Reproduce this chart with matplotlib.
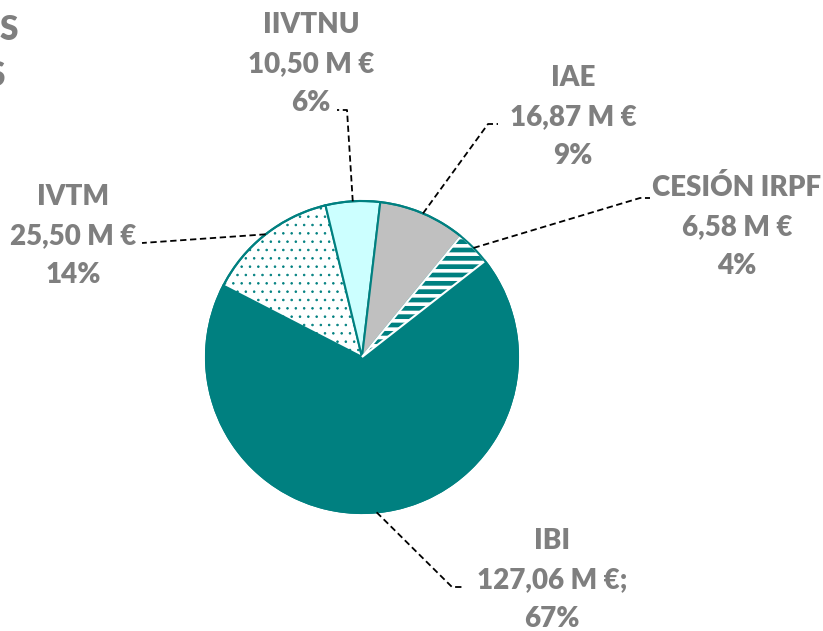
import numpy as np
import matplotlib.pyplot as plt

# data (millones de euros)
names = ["IBI", "IVTM", "IIVTNU", "IAE", "CESIÓN IRPF"]
values = [127.06, 25.50, 10.50, 16.87, 6.58]
pcts = [67, 14, 6, 9, 4]
suffix = [";", "", "", "", ""]

# styling
TEAL = "#008080"
GREY_TXT = "#7f7f7f"
faces = [TEAL, "white", "#ccffff", "#c0c0c0", TEAL]
edges = [TEAL, TEAL, TEAL, TEAL, "white"]
hatches = [None, "..", None, None, "--"]
hatch_lw = [1.0, 0.6, 1.0, 1.0, 2.6]

W, H = 823, 631
plt.rcParams["font.family"] = ["Lato", "DejaVu Sans"]
plt.rcParams["hatch.linewidth"] = 0.6


def px(x, y):
    # pixel coords (origin top-left) -> data coords
    return x, H - y


fig = plt.figure(figsize=(W / 100, H / 100), dpi=100)
ax = fig.add_axes([0, 0, 1, 1])

cx, cy = px(362, 357)
R = 156
wedges, _ = ax.pie(values, startangle=38, counterclock=False,
                   center=(cx, cy), radius=R,
                   wedgeprops=dict(linewidth=1.5))
for w, fc, ec, h, hl in zip(wedges, faces, edges, hatches, hatch_lw):
    w.set_facecolor(fc)
    w.set_edgecolor(ec)
    if h:
        w.set_hatch(h)
        if hasattr(w, "set_hatch_linewidth"):
            w.set_hatch_linewidth(hl)

# outline of the whole pie in teal
circle = plt.Circle((cx, cy), R, fill=False, edgecolor=TEAL, linewidth=1.5)
ax.add_patch(circle)

ax.set_xlim(0, W)
ax.set_ylim(0, H)
ax.axis("off")

# label positions (centre x, first line y) and leader line bends
label_pos = [(552, 541), (73, 197), (311, 25), (573, 78), (737, 188)]
leader_pts = [
    [(452, 587), (463, 587)],
    [(142, 243)],
    [(347, 110), (337, 110)],
    [(488, 124), (498, 124)],
    [(640, 198), (650, 198)],
]
line_gap = 39

for i, w in enumerate(wedges):
    mid = np.radians((w.theta1 + w.theta2) / 2)
    start = (cx + R * np.cos(mid), cy + R * np.sin(mid))
    xs = [start[0]] + [p[0] for p in leader_pts[i]]
    ys = [start[1]] + [H - p[1] for p in leader_pts[i]]
    ax.plot(xs, ys, color="black", linewidth=1.3, linestyle=(0, (3.5, 2)))

    money = f"{values[i]:.2f}".replace(".", ",") + " M €" + suffix[i]
    lines = [names[i], money, f"{pcts[i]}%"]
    lx, ly = label_pos[i]
    for k, t in enumerate(lines):
        ax.text(*px(lx, ly + k * line_gap), t, ha="center", va="center",
                fontsize=20, fontweight="heavy", color=GREY_TXT)

# cut-off title at the top left
ax.text(*px(18, 30), "S", ha="right", va="center", fontsize=24,
        fontweight="heavy", color=GREY_TXT)
ax.text(*px(5, 76), "S", ha="right", va="center", fontsize=24,
        fontweight="heavy", color=GREY_TXT)

fig.savefig("out.png", dpi=100)
